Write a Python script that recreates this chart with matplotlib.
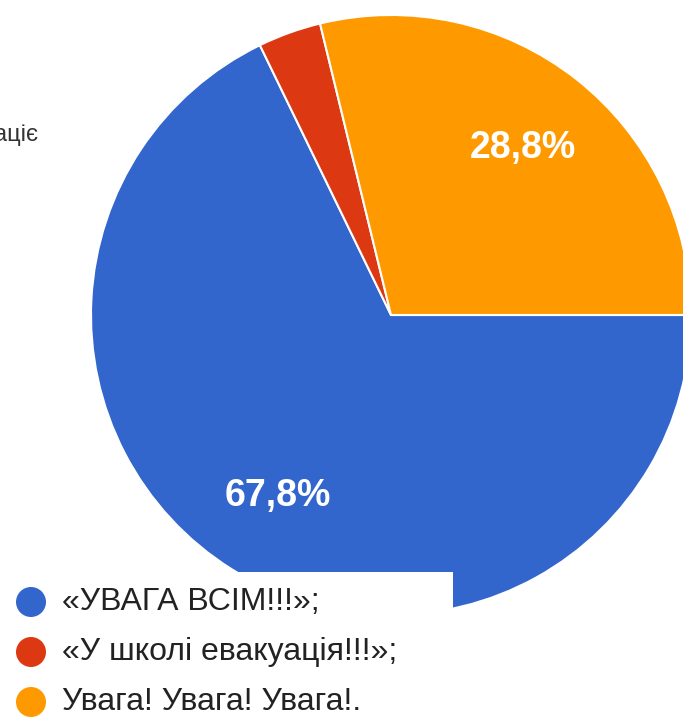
import matplotlib.pyplot as plt
from matplotlib.patches import Rectangle, Circle

# Data
labels = ['«УВАГА ВСІМ!!!»;', '«У школі евакуація!!!»;', 'Увага! Увага! Увага!.']
values = [67.8, 3.4, 28.8]
colors = ['#3366CC', '#DC3912', '#FF9900']
pct_text = ['67,8%', '', '28,8%']

W, H = 683, 717
fig = plt.figure(figsize=(W / 100, H / 100), dpi=100)
ax = fig.add_axes([0, 0, 1, 1])

# pie, working in pixel units (y measured from bottom)
wedges, texts = ax.pie(values, colors=colors, startangle=0, counterclock=False,
                       center=(391, H - 315), radius=300,
                       labels=pct_text, labeldistance=0.71,
                       wedgeprops=dict(edgecolor='white', linewidth=1.5),
                       textprops=dict(color='white', fontsize=27, fontweight='bold',
                                      family='Liberation Sans', ha='center', va='center'))
ax.set_xlim(0, W)
ax.set_ylim(0, H)
ax.set_aspect('equal')
ax.axis('off')

# cut-off question text at top left
ax.text(38, H - 141, 'аціє', fontsize=17, color='#333333', ha='right',
        va='baseline', family='Liberation Sans')

# legend box sitting over the pie
ax.add_patch(Rectangle((0, 0), 453, H - 572, facecolor='white', edgecolor='none', zorder=5))
for i, (lab, col) in enumerate(zip(labels, colors)):
    y = H - (602 + i * 50)
    ax.add_patch(Circle((31, y), 15, facecolor=col, edgecolor='none', zorder=6))
    ax.text(62, y, lab, fontsize=23, color='#222222', va='center', ha='left',
            family='Liberation Sans', zorder=7)

fig.savefig('out.png', dpi=100)
